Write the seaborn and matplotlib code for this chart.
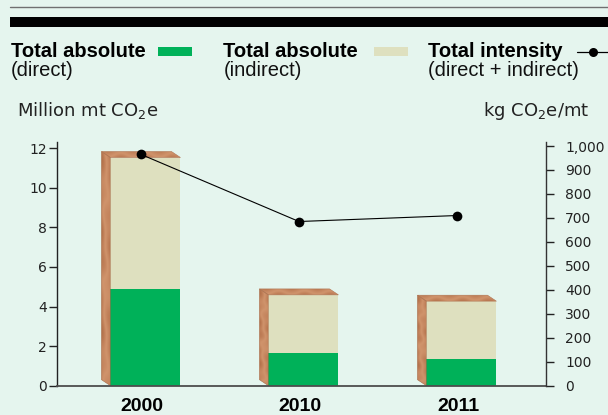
import matplotlib
matplotlib.use("Agg")
import matplotlib.pyplot as plt
from matplotlib.patches import Polygon, Rectangle
from matplotlib.lines import Line2D
from matplotlib.transforms import ScaledTranslation
from matplotlib.colors import LinearSegmentedColormap
import numpy as np
import pandas as pd
import seaborn as sns

# ---- data -------------------------------------------------------------
years = ["2000", "2010", "2011"]
direct = [4.87, 1.64, 1.35]          # million mt CO2e
indirect = [6.66, 2.95, 2.92]        # million mt CO2e
intensity = [965, 685, 710]          # kg CO2e / mt
left_ticks = [0, 2, 4, 6, 8, 10, 12]
right_ticks = [0, 100, 200, 300, 400, 500, 600, 700, 800, 900, 1000]

# ---- style ------------------------------------------------------------
BG = "#e5f5ee"
GREEN = "#00b159"
BEIGE = "#dee0bf"
W, H, DPI = 608, 415, 100

sns.set_theme(style="white")
plt.rcParams["font.family"] = ["DejaVu Sans"]
plt.rcParams["mathtext.default"] = "regular"

fig = plt.figure(figsize=(W / DPI, H / DPI), dpi=DPI, facecolor=BG)


def fx(px):
    return px / W


def fy(py):
    return 1 - py / H


# axes box in pixels
AX_L, AX_R, AX_T, AX_B = 56.7, 545.7, 141.7, 385.7
ax = fig.add_axes([fx(AX_L), fy(AX_B), (AX_R - AX_L) / W, (AX_B - AX_T) / H])
ax.patch.set_visible(False)

df = pd.DataFrame({"year": years, "direct": direct,
                   "total": [d + i for d, i in zip(direct, indirect)]})

BAR_W = 0.443
sns.barplot(data=df, x="year", y="total", order=years, color=BEIGE,
            saturation=1, width=BAR_W, linewidth=0, errorbar=None, ax=ax)
sns.barplot(data=df, x="year", y="direct", order=years, color=GREEN,
            saturation=1, width=BAR_W, linewidth=0, errorbar=None, ax=ax)

XLIM = (-0.562, 2.533)
YLIM = (0, 12.33)
ax.set_xlim(*XLIM)
ax.set_ylim(*YLIM)

# wood-grain shading for the block sides and tops
wood = LinearSegmentedColormap.from_list(
    "wood", ["#ad6c45", "#c07f58", "#d0946c", "#c68760", "#b8764f"])
gx = np.linspace(0, 1, 24)
gy = np.linspace(0, 1, 200)
grain = (0.7 * gx[None, :] + 0.12 * np.sin(gy[:, None] * 17 + gx[None, :] * 4)
         + 0.08 * np.sin(gy[:, None] * 43 + 1.3))
grain = (grain - grain.min()) / (grain.max() - grain.min())
grain_top = (0.6 * np.linspace(0, 1, 8)[:, None]
             + 0.2 * np.sin(np.linspace(0, 1, 120)[None, :] * 19))
grain_top = (grain_top - grain_top.min()) / (grain_top.max() - grain_top.min())

# 3-D depth of each block: 9 px left, 6 px up
px_x = (XLIM[1] - XLIM[0]) / (AX_R - AX_L)
px_y = (YLIM[1] - YLIM[0]) / (AX_B - AX_T)
dx, dy = 9 * px_x, 6 * px_y
for bar in ax.patches[:len(years)]:
    x0 = bar.get_x()
    w = bar.get_width()
    h = bar.get_height()
    side = Polygon([(x0, 0), (x0, h), (x0 - dx, h + dy), (x0 - dx, dy)],
                   closed=True, facecolor="none", edgecolor="#a86b48",
                   linewidth=0.4, zorder=2.1)
    top = Polygon([(x0, h), (x0 + w, h), (x0 + w - dx, h + dy), (x0 - dx, h + dy)],
                  closed=True, facecolor="none", edgecolor="#b07552",
                  linewidth=0.4, zorder=2.1)
    ax.add_patch(side)
    ax.add_patch(top)
    im_s = ax.imshow(grain, cmap=wood, aspect="auto", origin="lower",
                     extent=(x0 - dx, x0, 0, h + dy), zorder=2,
                     interpolation="bilinear")
    im_s.set_clip_path(side)
    im_t = ax.imshow(grain_top, cmap=wood, aspect="auto", origin="lower",
                     extent=(x0 - dx, x0 + w, h, h + dy), zorder=2,
                     interpolation="bilinear", vmin=-0.2, vmax=1.1)
    im_t.set_clip_path(top)

ax.set_xlim(*XLIM)
ax.set_ylim(*YLIM)
ax.set_xlabel("")
ax.set_ylabel("")
ax.set_yticks(left_ticks)
ax.set_yticklabels([str(t) for t in left_ticks])
ax.tick_params(axis="y", left=True, direction="out", length=5.5, width=1,
               pad=1.7, labelsize=10, colors="#222222")
ax.tick_params(axis="x", bottom=False, length=0, pad=8.5)
for lab in ax.get_xticklabels():
    lab.set_fontfamily("Liberation Sans")
    lab.set_fontweight("bold")
    lab.set_fontsize(14)
    lab.set_color("black")
    lab.set_transform(lab.get_transform() +
                      ScaledTranslation(-3.5 / DPI, 0, fig.dpi_scale_trans))

for s in ["top", "right"]:
    ax.spines[s].set_visible(False)
ax.spines["left"].set_color("#222222")
ax.spines["left"].set_linewidth(1.0)
ax.spines["bottom"].set_color("#4d4d4d")
ax.spines["bottom"].set_linewidth(1.3)

# ---- intensity line on the secondary axis -----------------------------
ax2 = ax.twinx()
ax2.patch.set_visible(False)
sns.lineplot(x=list(range(len(years))), y=intensity, ax=ax2, color="black",
             linewidth=0.8, marker="o", markersize=7, markeredgewidth=0,
             zorder=5)
ax2.set_xlim(*XLIM)
ax2.set_ylim(0, 1018)
for ln in ax2.lines:
    ln.set_transform(ax2.transData +
                     ScaledTranslation(-4.5 / DPI, 0, fig.dpi_scale_trans))
ax2.set_yticks(right_ticks)
ax2.set_yticklabels([f"{t:,}" for t in right_ticks])
ax2.tick_params(axis="y", right=True, direction="out", length=6, width=1,
                pad=8, labelsize=10, colors="#222222")
for s in ["top", "left", "bottom"]:
    ax2.spines[s].set_visible(False)
ax2.spines["right"].set_color("#333333")
ax2.spines["right"].set_linewidth(1.0)
ax2.set_ylabel("")

# ---- axis titles -------------------------------------------------------
fig.text(fx(16.7), fy(116), "Million mt CO$_2$e", fontsize=13,
         color="#222222", ha="left", va="baseline")
fig.text(fx(589.5), fy(116), "kg CO$_2$e/mt", fontsize=13,
         color="#222222", ha="right", va="baseline")

# ---- header rules ------------------------------------------------------
fig.add_artist(Line2D([fx(10), 1], [fy(7.3), fy(7.3)], color="#707070",
                      linewidth=1.0, transform=fig.transFigure))
fig.add_artist(Rectangle((fx(10), fy(27.3)), 1 - fx(10), (27.3 - 16.7) / H,
                         facecolor="black", edgecolor="none",
                         transform=fig.transFigure))

# ---- legend ------------------------------------------------------------
LEG_FONT = ["Liberation Sans", "DejaVu Sans"]
entries = [
    (11, "Total absolute", "(direct)"),
    (223.3, "Total absolute", "(indirect)"),
    (428.3, "Total intensity", "(direct + indirect)"),
]
for x, title, sub in entries:
    fig.text(fx(x), fy(57.3), title, family=LEG_FONT, fontweight="bold",
             fontsize=14.5, color="black", ha="left", va="baseline")
    fig.text(fx(x), fy(75.5), sub, family=LEG_FONT, fontsize=14.5,
             color="#111111", ha="left", va="baseline")

fig.add_artist(Rectangle((fx(158), fy(56)), 34 / W, 8.7 / H, facecolor=GREEN,
                         edgecolor="none", transform=fig.transFigure))
fig.add_artist(Rectangle((fx(374), fy(56)), 33.7 / W, 8.7 / H, facecolor=BEIGE,
                         edgecolor="none", transform=fig.transFigure))
fig.add_artist(Line2D([fx(576.7), 1], [fy(51.7), fy(51.7)], color="black",
                      linewidth=0.9, transform=fig.transFigure))
fig.add_artist(Line2D([fx(593.3)], [fy(51.7)], color="black", marker="o",
                      markersize=6.5, markeredgewidth=0,
                      transform=fig.transFigure))

fig.savefig("out.png", dpi=DPI, facecolor=BG)
